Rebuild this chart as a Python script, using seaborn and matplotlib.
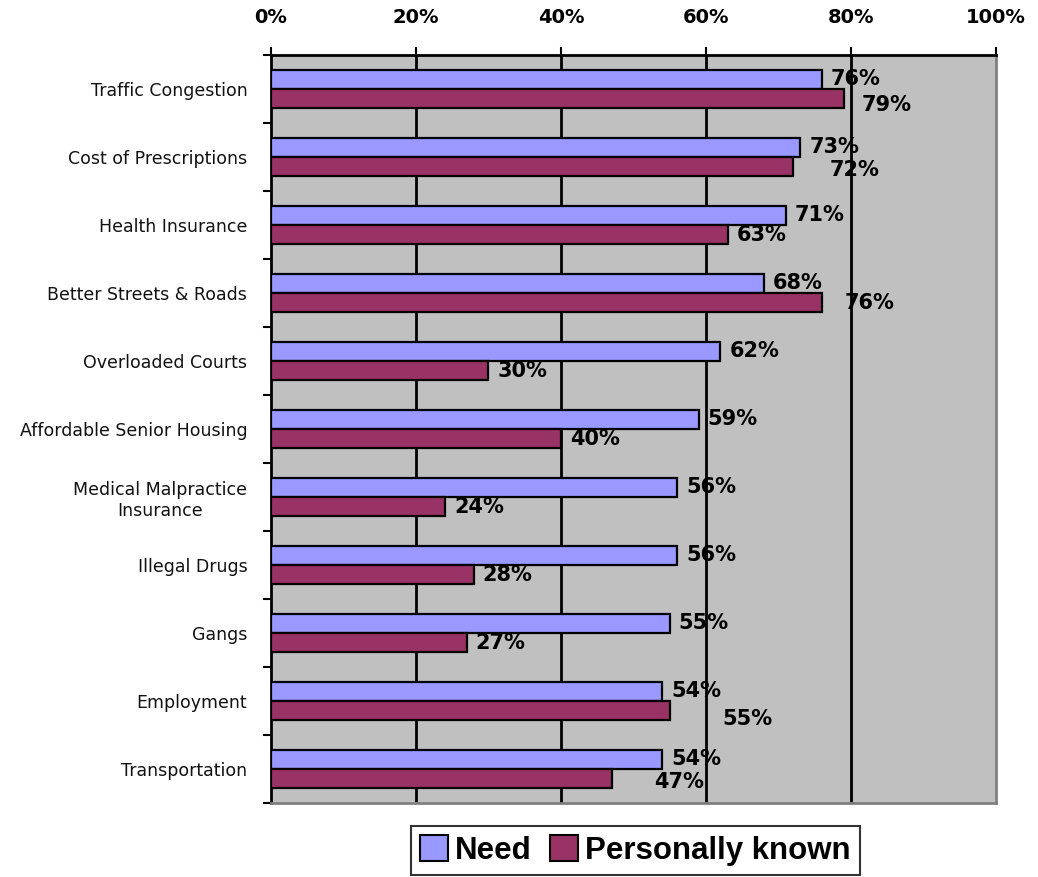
import matplotlib
matplotlib.use("Agg")
import matplotlib.pyplot as plt
import seaborn as sns
import pandas as pd
from matplotlib.patches import Patch

categories = [
    "Traffic Congestion",
    "Cost of Prescriptions",
    "Health Insurance",
    "Better Streets & Roads",
    "Overloaded Courts",
    "Affordable Senior Housing",
    "Medical Malpractice\nInsurance",
    "Illegal Drugs",
    "Gangs",
    "Employment",
    "Transportation",
]
need = [76, 73, 71, 68, 62, 59, 56, 56, 55, 54, 54]
personally_known = [79, 72, 63, 76, 30, 40, 24, 28, 27, 55, 47]
series_names = ["Need", "Personally known"]
x_ticks = [0, 20, 40, 60, 80, 100]

# label nudges (pixels) to keep overlapping value labels apart
pk_label_dx = [18, 37, 9, 23, 9, 9, 9, 8, 9, 53, 42]
pk_label_dy = [-6, -3, 0, 0, 0, 0, 0, 0, 0, -8, -3]

colors = {"Need": "#9999FF", "Personally known": "#993366"}

df = pd.DataFrame({
    "category": categories * 2,
    "value": need + personally_known,
    "series": [series_names[0]] * len(categories) + [series_names[1]] * len(categories),
})

sns.set_theme(style="white")
plt.rcParams["font.family"] = ["DejaVu Sans"]
plt.rcParams["text.color"] = "black"
plt.rcParams["xtick.color"] = "black"
plt.rcParams["ytick.color"] = "black"

fig = plt.figure(figsize=(10.38, 8.77), dpi=100)
ax = fig.add_axes([0.261, 0.0844, 0.6985, 0.8529])
ax.set_facecolor("#C0C0C0")

sns.barplot(
    data=df, y="category", x="value", hue="series", orient="h",
    palette=colors, order=categories, hue_order=series_names,
    width=0.56, gap=0, saturation=1, edgecolor="black", linewidth=1.6,
    legend=False, ax=ax, zorder=3,
)

ax.set_xlim(0, 100)
ax.set_ylim(len(categories) - 0.5, -0.5)
ax.set_xlabel("")
ax.set_ylabel("")

# vertical gridlines
for xv in x_ticks[1:-1]:
    ax.axvline(xv, color="black", lw=2, zorder=1)

# x axis on top
ax.xaxis.tick_top()
ax.set_xticks(x_ticks)
ax.set_xticklabels([f"{v}%" for v in x_ticks], fontsize=14,
                   fontweight="bold", color="black")
ax.tick_params(axis="x", which="major", direction="out", length=6, width=1.5,
               color="black", pad=14, top=True, bottom=False)

# category labels with boundary ticks on the left
ax.set_yticks(range(len(categories)))
ax.set_yticklabels(categories, fontsize=12.5, color="#111111")
ax.tick_params(axis="y", which="major", length=0, pad=17)
ax.set_yticks([i - 0.5 for i in range(len(categories) + 1)], minor=True)
ax.tick_params(axis="y", which="minor", direction="out", length=6, width=1.5,
               color="black", left=True)
for lbl in ax.get_yticklabels():
    lbl.set_multialignment("center")

for side in ["left", "top"]:
    ax.spines[side].set_color("black")
    ax.spines[side].set_linewidth(2)
for side in ["right", "bottom"]:
    ax.spines[side].set_color("#808080")
    ax.spines[side].set_linewidth(2)

# value labels
need_bars, pk_bars = ax.containers[0], ax.containers[1]
for bar, v in zip(need_bars, need):
    ax.annotate(f"{v}%", xy=(bar.get_width(), bar.get_y() + bar.get_height() / 2),
                xytext=(9, 0), textcoords="offset pixels", ha="left", va="center",
                fontsize=15, fontweight="bold", color="black", zorder=5)
for bar, v, dx, dy in zip(pk_bars, personally_known, pk_label_dx, pk_label_dy):
    ax.annotate(f"{v}%", xy=(bar.get_width(), bar.get_y() + bar.get_height() / 2),
                xytext=(dx, dy), textcoords="offset pixels", ha="left", va="center",
                fontsize=15, fontweight="bold", color="black", zorder=5)

handles = [Patch(facecolor=colors[s], edgecolor="black", linewidth=1.5) for s in series_names]
leg = fig.legend(handles, series_names, loc="center", bbox_to_anchor=(0.612, 0.03),
                 ncol=2, frameon=True, fancybox=False, edgecolor="black",
                 prop={"family": "Liberation Sans", "weight": "bold", "size": 22.5},
                 handlelength=0.9, handleheight=0.9, handletextpad=0.2,
                 columnspacing=0.6, borderpad=0.3, borderaxespad=0)
leg.get_frame().set_linewidth(1.5)
for t in leg.get_texts():
    t.set_color("black")

fig.savefig("out.png", dpi=100)
